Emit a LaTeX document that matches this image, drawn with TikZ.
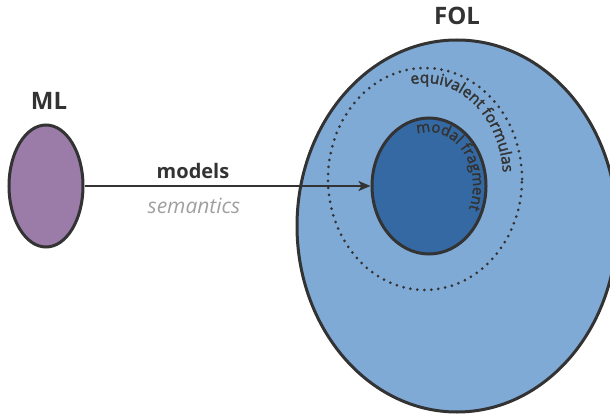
\documentclass[tikz,border=0pt]{standalone}
\usepackage{fontspec}
\setmainfont{Open Sans}
\newfontfamily\medfont[FakeBold=2]{Open Sans}
\usetikzlibrary{arrows.meta,decorations.text,shapes.geometric}
\definecolor{ink}{HTML}{333333}
\definecolor{mlfill}{HTML}{9B7BA8}
\definecolor{folfill}{HTML}{80AAD6}
\definecolor{fragfill}{HTML}{3469A3}
\definecolor{semgray}{HTML}{A0A0A0}
\begin{document}
\begin{tikzpicture}[x=1pt,y=1pt,
  blob/.style={ellipse, draw=ink, line width=3pt, inner sep=0pt},
  title/.style={font=\fontsize{24}{24}\selectfont\bfseries, text=ink},
  arr/.style={draw=ink, line width=2pt, -{Stealth[length=12pt,width=10pt,inset=3pt]}},
  dots/.style={draw=ink, line width=3pt, line cap=round, dash pattern=on 0pt off 7pt},
  curvetext/.style={decorate, decoration={text along path, text={#1}, text align=center}}
]
\useasboundingbox (0,0) rectangle (610,413);
\clip (0,0) rectangle (610,413);
% FOL
\node[blob, fill=folfill, minimum width=320pt, minimum height=372pt] (fol) at (457,187) {};
\node[title] (foltxt) at (457,397) {FOL};
% dotted equivalence region
\draw[dots] (425,234) ellipse [x radius=97, y radius=111];
\path[curvetext={|\fontsize{15.5}{15.5}\medfont\color{ink}|equivalent formulas}]
  (425,234) ++(100:78 and 96) arc[start angle=100, end angle=4, x radius=78, y radius=96];
% modal fragment
\node[blob, fill=fragfill, minimum width=114pt, minimum height=136pt] (frag) at (429,227) {};
\path[curvetext={|\fontsize{15}{15}\medfont\color{ink}|modal fragment}]
  (429,227) ++(118:44 and 54) arc[start angle=118, end angle=-36, x radius=44, y radius=54];
% ML
\node[blob, fill=mlfill, minimum width=74pt, minimum height=122pt] (ml) at (46,227) {};
\node[title] (mltxt) at (49,312) {ML};
% arrow
\draw[arr] (ml) -- (frag);
\node[font=\fontsize{20}{20}\selectfont\bfseries, text=ink] (models) at (193,242) {models};
\node[font=\fontsize{21}{21}\selectfont\itshape, text=semgray] (sem) at (194,207) {semantics};
\end{tikzpicture}
\end{document}
